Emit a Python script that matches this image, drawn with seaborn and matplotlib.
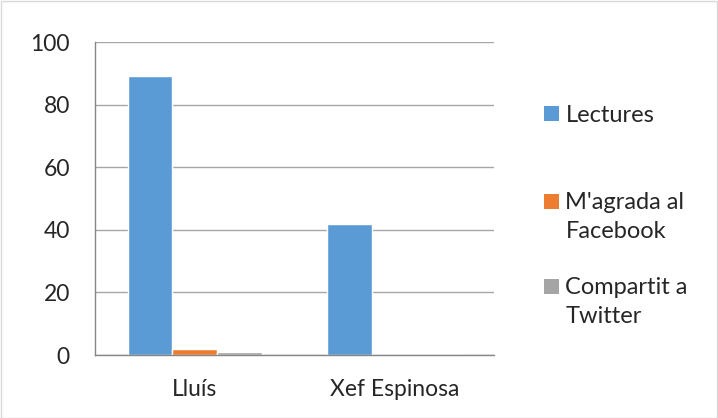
import pandas as pd
import matplotlib.pyplot as plt
import seaborn as sns
from matplotlib.patches import Rectangle, Patch
from matplotlib.legend_handler import HandlerPatch

# chart values
categories = ['Lluís', 'Xef Espinosa']
series = ['Lectures', "M'agrada al\nFacebook", 'Compartit a\nTwitter']
lectures = [89, 42]
magrada = [2, 0]
compartit = [1, 0]
colors = ['#5B9BD5', '#ED7D31', '#A5A5A5']
y_ticks = [0, 20, 40, 60, 80, 100]

df = pd.DataFrame({
    'cat': categories * 3,
    'serie': [series[0]] * 2 + [series[1]] * 2 + [series[2]] * 2,
    'val': lectures + magrada + compartit,
})


# legend square moved up to sit next to the first text line
class ShiftedPatch(HandlerPatch):
    def __init__(self, dy):
        super().__init__()
        self.dy = dy

    def create_artists(self, legend, orig_handle, xdescent, ydescent,
                       width, height, fontsize, trans):
        return super().create_artists(legend, orig_handle, xdescent,
                                      ydescent - self.dy * fontsize,
                                      width, height, fontsize, trans)


sns.set_theme(style='white')
plt.rcParams['font.family'] = ['Lato', 'DejaVu Sans']

fig = plt.figure(figsize=(7.18, 4.18), dpi=100)
ax = fig.add_axes([0.1323, 0.1507, 0.5557, 0.7488])

sns.barplot(data=df, x='cat', y='val', hue='serie', palette=colors,
            width=0.67, ax=ax, legend=False, saturation=1)

ax.set_ylim(0, 100)
ax.set_xlim(-0.5, 1.5)
ax.set_yticks(y_ticks)
ax.set_xlabel('')
ax.set_ylabel('')
ax.yaxis.grid(True, color='#A6A6A6', linewidth=1)
ax.set_axisbelow(True)
for s in ['top', 'right']:
    ax.spines[s].set_visible(False)
for s in ['left', 'bottom']:
    ax.spines[s].set_color('#868686')
    ax.spines[s].set_linewidth(1)

ax.tick_params(axis='y', length=6, color='#868686', width=1, labelsize=16.5, pad=12)
ax.tick_params(axis='x', length=0, labelsize=16.5, pad=17)
# category boundary ticks
ax.set_xticks([-0.5, 0.5, 1.5], minor=True)
ax.tick_params(axis='x', which='minor', length=6, color='#868686', width=1, direction='out')

# legend: one entry per box, placed like the Excel legend
leg_y = [115, 217, 302]
shift = [0, 0.65, 0.65]
for i in range(3):
    h = Patch(facecolor=colors[i], edgecolor='none')
    leg = fig.legend([h], [series[i]], loc='center left',
                     bbox_to_anchor=(544 / 718, 1 - leg_y[i] / 418),
                     bbox_transform=fig.transFigure, frameon=False, fontsize=17,
                     handlelength=0.62, handleheight=0.62, handletextpad=0.29,
                     borderpad=0, borderaxespad=0,
                     handler_map={h: ShiftedPatch(shift[i])})
    for t in leg.get_texts():
        t.set_linespacing(1.5)

fig.patches.append(Rectangle((0.001, 0.001), 0.997, 0.997, transform=fig.transFigure,
                             fill=False, edgecolor='#D9D9D9', linewidth=1))

fig.savefig('out.png', dpi=100)
